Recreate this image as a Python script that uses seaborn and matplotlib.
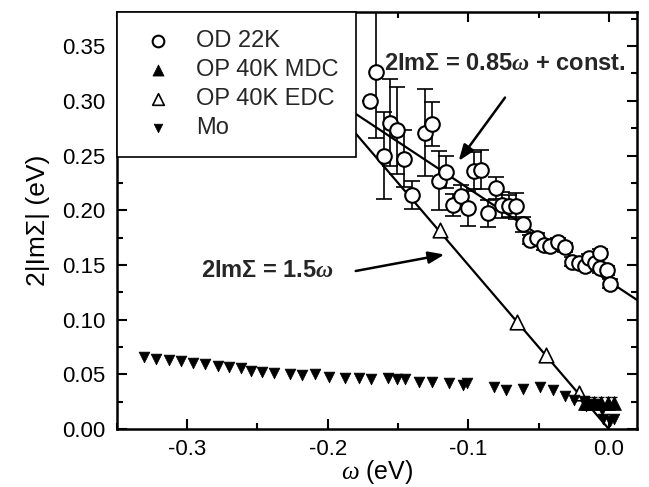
import numpy as np
import pandas as pd
import matplotlib
matplotlib.use("Agg")
import matplotlib.pyplot as plt
import seaborn as sns

# ---------------- data ----------------
od_w = [-0.170, -0.166, -0.160, -0.156, -0.151, -0.146, -0.140, -0.131, -0.126,
        -0.121, -0.116, -0.111, -0.105, -0.100, -0.096, -0.091, -0.086, -0.080,
        -0.076, -0.071, -0.066, -0.061, -0.056, -0.051, -0.046, -0.042, -0.036,
        -0.031, -0.026, -0.021, -0.017, -0.014, -0.010, -0.006, -0.006, -0.001, 0.001]
od_s = [0.300, 0.326, 0.250, 0.280, 0.273, 0.247, 0.214, 0.271, 0.279,
        0.227, 0.235, 0.205, 0.213, 0.202, 0.236, 0.237, 0.197, 0.220,
        0.205, 0.204, 0.204, 0.187, 0.173, 0.175, 0.168, 0.167, 0.171,
        0.166, 0.153, 0.152, 0.149, 0.156, 0.152, 0.161, 0.147, 0.145, 0.133]
od_err = [0.000, 0.060, 0.040, 0.040, 0.040, 0.026, 0.013, 0.040, 0.020,
          0.027, 0.015, 0.010, 0.010, 0.016, 0.017, 0.018, 0.012, 0.010,
          0.012, 0.010, 0.012, 0.007, 0.004, 0.004, 0.004, 0.004, 0.004,
          0.004, 0.004, 0.004, 0.004, 0.004, 0.004, 0.004, 0.004, 0.004, 0.004]

mdc_w = [-0.017, -0.0145, -0.0104, -0.0055, -0.0007, 0.0035]
mdc_s = [0.024, 0.024, 0.024, 0.024, 0.024, 0.024]
mdc_err = [0.005, 0.005, 0.005, 0.005, 0.005, 0.005]

edc_w = [-0.120, -0.065, -0.045, -0.021]
edc_s = [0.182, 0.098, 0.068, 0.033]

mo_w = [-0.331, -0.322, -0.313, -0.304, -0.296, -0.287, -0.278, -0.270, -0.262,
        -0.2545, -0.247, -0.238, -0.227, -0.218, -0.209, -0.199, -0.188, -0.178,
        -0.169, -0.157, -0.151, -0.145, -0.135, -0.126, -0.114, -0.104, -0.101,
        -0.082, -0.073, -0.061, -0.049, -0.040, -0.031, -0.025, -0.018, -0.016,
        -0.010, -0.005, -0.004, 0.001, 0.004]
mo_s = [0.066, 0.064, 0.063, 0.062, 0.060, 0.059, 0.058, 0.057, 0.056,
        0.053, 0.052, 0.051, 0.050, 0.049, 0.050, 0.048, 0.047, 0.047,
        0.046, 0.047, 0.046, 0.046, 0.043, 0.043, 0.042, 0.040, 0.042,
        0.038, 0.036, 0.037, 0.038, 0.036, 0.030, 0.027, 0.026, 0.021,
        0.023, 0.017, 0.009, 0.007, 0.009]

fit1_w = [-0.20, 0.02]       # 2ImΣ = 0.85ω + const.
fit1_slope, fit1_const = -0.85, 0.135
fit2_w = [-0.20, 0.0]        # 2ImΣ = 1.5ω
fit2_slope = -1.5

# ---------------- style ----------------
sns.set_theme(style="ticks")
plt.rcParams["font.family"] = ["Liberation Sans", "DejaVu Sans"]
plt.rcParams["mathtext.fontset"] = "custom"
plt.rcParams["mathtext.it"] = "Liberation Serif:italic"
plt.rcParams["mathtext.bf"] = "Liberation Serif:bold:italic"
plt.rcParams["mathtext.rm"] = "Liberation Sans"

fig = plt.figure(figsize=(6.49, 4.87), dpi=100)
ax = fig.add_axes([0.180, 0.119, 0.8015, 0.856])

# fit lines
f1 = pd.DataFrame({"w": fit1_w})
f1["s"] = fit1_slope * f1["w"] + fit1_const
f2 = pd.DataFrame({"w": fit2_w})
f2["s"] = fit2_slope * f2["w"]
sns.lineplot(data=f1, x="w", y="s", color="black", lw=1.6, ax=ax, zorder=2)
sns.lineplot(data=f2, x="w", y="s", color="black", lw=1.6, ax=ax, zorder=2)

# error bars
ax.errorbar(od_w, od_s, yerr=od_err, fmt="none", ecolor="black", elinewidth=1.2,
            capsize=6, capthick=1.2, zorder=3)
ax.errorbar(mdc_w, mdc_s, yerr=mdc_err, fmt="none", ecolor="black", elinewidth=1.0,
            capsize=2, capthick=1.0, zorder=3)

od = pd.DataFrame({"w": od_w, "s": od_s})
mdc = pd.DataFrame({"w": mdc_w, "s": mdc_s})
edc = pd.DataFrame({"w": edc_w, "s": edc_s})
mo = pd.DataFrame({"w": mo_w, "s": mo_s})

sns.scatterplot(data=od, x="w", y="s", marker="o", s=110, facecolor="white",
                edgecolor="black", linewidth=1.5, ax=ax, zorder=4, label="OD 22K")
sns.scatterplot(data=mdc, x="w", y="s", marker="^", s=100, color="black",
                edgecolor="black", linewidth=0.5, ax=ax, zorder=4, label="OP 40K MDC")
sns.scatterplot(data=edc, x="w", y="s", marker="^", s=110, facecolor="white",
                edgecolor="black", linewidth=1.2, ax=ax, zorder=4, label="OP 40K EDC")
sns.scatterplot(data=mo, x="w", y="s", marker="v", s=60, color="black",
                edgecolor="black", linewidth=0.5, ax=ax, zorder=4, label="Mo")

ax.set_xlim(-0.340, 0.020)
ax.set_ylim(0.0, 0.381)
ax.set_xticks([-0.3, -0.2, -0.1, 0.0])
ax.set_xticklabels(["-0.3", "-0.2", "-0.1", "0.0"])
ax.set_xticks(np.arange(-0.35, 0.021, 0.05), minor=True)
ax.set_yticks(np.arange(0, 0.351, 0.05))
ax.set_yticklabels([f"{v:.2f}" for v in np.arange(0, 0.351, 0.05)])
ax.set_yticks(np.arange(0, 0.38, 0.025), minor=True)
ax.tick_params(which="both", direction="in", top=True, right=True, labelsize=16,
               width=1.5, color="black", labelcolor="black")
ax.tick_params(which="major", length=7)
ax.tick_params(axis="y", which="major", pad=8)
ax.tick_params(axis="x", which="major", pad=7)
ax.tick_params(which="minor", length=4)
for sp in ax.spines.values():
    sp.set_linewidth(1.8)
    sp.set_color("black")

ax.set_xlabel(r"$\omega$ (eV)", fontsize=18, labelpad=-1, color="black")
ax.set_ylabel("2|ImΣ| (eV)", fontsize=19, labelpad=9, color="black")

leg = ax.legend(loc="upper left", frameon=True, fancybox=False, fontsize=17,
                borderaxespad=0, borderpad=0.75, handletextpad=0.6, labelspacing=0.3,
                handlelength=2.0, markerscale=0.8, framealpha=1.0)
leg.get_frame().set_edgecolor("black")
leg.get_frame().set_linewidth(1.2)
leg.get_frame().set_facecolor("white")
leg.set_zorder(10)

ax.text(-0.160, 0.334, r"2ImΣ = 0.85$\mathbf{\omega}$ + const.", fontsize=17,
        fontweight="bold", va="center", ha="left", zorder=11)
ax.text(-0.290, 0.145, r"2ImΣ = 1.5$\mathbf{\omega}$", fontsize=17,
        fontweight="bold", va="center", ha="left", zorder=11)
ax.annotate("", xy=(-0.108, 0.243), xytext=(-0.0727, 0.305),
            arrowprops=dict(arrowstyle="-|>,head_length=0.8,head_width=0.3",
                            color="black", lw=1.8))
ax.annotate("", xy=(-0.115, 0.160), xytext=(-0.182, 0.144),
            arrowprops=dict(arrowstyle="-|>,head_length=0.8,head_width=0.3",
                            color="black", lw=1.8))

fig.savefig("out.png", dpi=100)
